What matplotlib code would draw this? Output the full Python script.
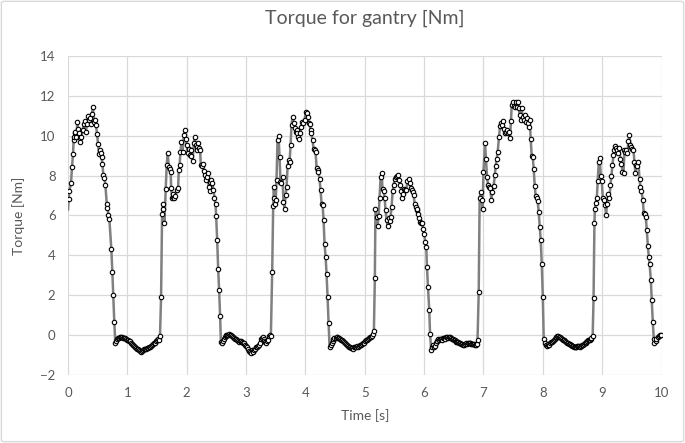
import matplotlib
matplotlib.use("Agg")
import matplotlib.pyplot as plt
from matplotlib.patches import FancyBboxPatch

# values
time_s = [
    0.000, 0.011, 0.020, 0.050, 0.067, 0.084, 0.095, 0.105, 0.115, 0.125,
    0.140, 0.157, 0.169, 0.185, 0.200, 0.210, 0.225, 0.247, 0.264, 0.280,
    0.300, 0.320, 0.337, 0.348, 0.365, 0.380, 0.400, 0.420, 0.438, 0.455,
    0.472, 0.489, 0.506, 0.523, 0.540, 0.556, 0.565, 0.579, 0.596, 0.613,
    0.630, 0.652, 0.665, 0.680, 0.697, 0.730, 0.747, 0.762, 0.780, 0.797,
    0.815, 0.832, 0.850, 0.867, 0.884, 0.900, 0.917, 0.934, 0.950, 0.967,
    0.984, 1.000, 1.017, 1.034, 1.050, 1.067, 1.084, 1.100, 1.117, 1.134,
    1.150, 1.167, 1.184, 1.200, 1.217, 1.234, 1.250, 1.267, 1.284, 1.300,
    1.317, 1.334, 1.350, 1.367, 1.384, 1.400, 1.417, 1.434, 1.450, 1.467,
    1.484, 1.500, 1.517, 1.534, 1.550, 1.568, 1.585, 1.595, 1.608, 1.625,
    1.646, 1.663, 1.680, 1.697, 1.714, 1.730, 1.738, 1.753, 1.765, 1.776,
    1.793, 1.810, 1.832, 1.855, 1.866, 1.880, 1.895, 1.910, 1.930, 1.950,
    1.967, 1.985, 2.000, 2.018, 2.035, 2.050, 2.070, 2.080, 2.100, 2.120,
    2.136, 2.153, 2.170, 2.180, 2.198, 2.210, 2.226, 2.237, 2.254, 2.270,
    2.288, 2.300, 2.320, 2.338, 2.355, 2.372, 2.385, 2.400, 2.417, 2.434,
    2.450, 2.468, 2.485, 2.496, 2.513, 2.530, 2.546, 2.563, 2.575, 2.590,
    2.605, 2.620, 2.637, 2.654, 2.670, 2.687, 2.704, 2.720, 2.737, 2.754,
    2.770, 2.787, 2.804, 2.820, 2.837, 2.854, 2.870, 2.887, 2.904, 2.920,
    2.937, 2.954, 2.970, 2.987, 3.004, 3.020, 3.037, 3.054, 3.070, 3.086,
    3.100, 3.112, 3.125, 3.140, 3.155, 3.170, 3.187, 3.204, 3.220, 3.237,
    3.255, 3.270, 3.283, 3.297, 3.310, 3.325, 3.340, 3.355, 3.367, 3.384,
    3.400, 3.418, 3.440, 3.457, 3.468, 3.478, 3.490, 3.500, 3.513, 3.530,
    3.547, 3.564, 3.580, 3.597, 3.614, 3.630, 3.648, 3.665, 3.682, 3.700,
    3.716, 3.733, 3.750, 3.766, 3.783, 3.800, 3.817, 3.833, 3.850, 3.865,
    3.880, 3.895, 3.910, 3.930, 3.950, 3.965, 3.985, 4.008, 4.025, 4.040,
    4.053, 4.070, 4.086, 4.100, 4.120, 4.137, 4.154, 4.170, 4.190, 4.205,
    4.220, 4.238, 4.255, 4.272, 4.290, 4.306, 4.323, 4.340, 4.356, 4.373,
    4.390, 4.407, 4.425, 4.440, 4.457, 4.473, 4.490, 4.507, 4.524, 4.540,
    4.557, 4.574, 4.590, 4.607, 4.624, 4.640, 4.657, 4.674, 4.690, 4.707,
    4.724, 4.740, 4.757, 4.774, 4.790, 4.807, 4.824, 4.840, 4.857, 4.874,
    4.890, 4.907, 4.924, 4.940, 4.957, 4.974, 4.990, 5.007, 5.024, 5.040,
    5.057, 5.074, 5.090, 5.107, 5.124, 5.140, 5.154, 5.170, 5.180, 5.200,
    5.216, 5.233, 5.250, 5.267, 5.284, 5.300, 5.317, 5.334, 5.350, 5.368,
    5.385, 5.400, 5.418, 5.435, 5.452, 5.470, 5.486, 5.503, 5.520, 5.540,
    5.565, 5.580, 5.600, 5.615, 5.632, 5.650, 5.666, 5.683, 5.700, 5.720,
    5.740, 5.756, 5.773, 5.790, 5.806, 5.823, 5.840, 5.857, 5.874, 5.887,
    5.900, 5.918, 5.935, 5.950, 5.970, 5.985, 6.000, 6.020, 6.036, 6.048,
    6.065, 6.087, 6.100, 6.120, 6.137, 6.150, 6.165, 6.180, 6.194, 6.210,
    6.225, 6.240, 6.255, 6.270, 6.284, 6.300, 6.315, 6.330, 6.345, 6.360,
    6.375, 6.390, 6.405, 6.420, 6.440, 6.455, 6.470, 6.485, 6.500, 6.515,
    6.530, 6.545, 6.560, 6.575, 6.590, 6.610, 6.625, 6.640, 6.655, 6.670,
    6.685, 6.700, 6.720, 6.735, 6.750, 6.765, 6.780, 6.795, 6.810, 6.825,
    6.840, 6.855, 6.870, 6.885, 6.900, 6.920, 6.936, 6.953, 6.970, 6.987,
    7.000, 7.026, 7.043, 7.060, 7.077, 7.094, 7.116, 7.133, 7.150, 7.172,
    7.190, 7.206, 7.223, 7.240, 7.262, 7.280, 7.296, 7.313, 7.330, 7.347,
    7.363, 7.380, 7.397, 7.414, 7.430, 7.447, 7.464, 7.476, 7.493, 7.510,
    7.526, 7.543, 7.560, 7.577, 7.594, 7.610, 7.627, 7.644, 7.660, 7.678,
    7.695, 7.712, 7.728, 7.745, 7.762, 7.780, 7.796, 7.813, 7.830, 7.847,
    7.864, 7.880, 7.897, 7.914, 7.930, 7.948, 7.965, 7.982, 8.000, 8.015,
    8.032, 8.050, 8.066, 8.080, 8.090, 8.105, 8.122, 8.137, 8.152, 8.167,
    8.182, 8.200, 8.215, 8.230, 8.245, 8.260, 8.275, 8.290, 8.305, 8.320,
    8.335, 8.350, 8.365, 8.380, 8.397, 8.410, 8.425, 8.440, 8.454, 8.470,
    8.482, 8.500, 8.510, 8.525, 8.538, 8.552, 8.566, 8.580, 8.594, 8.610,
    8.622, 8.636, 8.650, 8.665, 8.678, 8.692, 8.706, 8.720, 8.735, 8.750,
    8.763, 8.777, 8.790, 8.805, 8.820, 8.840, 8.855, 8.870, 8.878, 8.892,
    8.910, 8.926, 8.943, 8.960, 8.976, 8.994, 9.010, 9.027, 9.050, 9.066,
    9.083, 9.106, 9.123, 9.140, 9.156, 9.173, 9.190, 9.207, 9.224, 9.240,
    9.258, 9.275, 9.290, 9.308, 9.325, 9.342, 9.360, 9.376, 9.393, 9.410,
    9.426, 9.443, 9.460, 9.477, 9.494, 9.510, 9.527, 9.544, 9.560, 9.578,
    9.594, 9.610, 9.630, 9.645, 9.662, 9.685, 9.700, 9.718, 9.735, 9.752,
    9.770, 9.786, 9.800, 9.820, 9.836, 9.853, 9.870, 9.880, 9.900, 9.915,
    9.940, 9.960, 9.980, 9.995,
]

torque_nm = [
    6.30, 6.82, 7.22, 7.61, 8.43, 9.08, 9.78, 9.95, 10.12, 10.20,
    9.95, 10.67, 10.32, 10.12, 9.90, 9.70, 9.95, 10.28, 10.60, 10.74,
    10.20, 10.58, 10.99, 10.78, 10.87, 10.60, 11.07, 11.42, 10.67, 10.78,
    10.53, 10.07, 9.60, 9.08, 9.28, 9.11, 8.95, 8.58, 8.03, 7.90,
    7.53, 6.60, 6.40, 6.05, 5.80, 4.30, 3.16, 2.00, 0.64, -0.42,
    -0.28, -0.20, -0.15, -0.12, -0.10, -0.08, -0.10, -0.12, -0.12, -0.15,
    -0.20, -0.22, -0.24, -0.27, -0.30, -0.38, -0.45, -0.50, -0.55, -0.60,
    -0.65, -0.68, -0.72, -0.77, -0.80, -0.85, -0.80, -0.75, -0.72, -0.70,
    -0.68, -0.67, -0.67, -0.62, -0.58, -0.53, -0.50, -0.45, -0.42, -0.37,
    -0.30, -0.25, -0.18, -0.22, -0.03, 1.92, 6.07, 6.35, 6.60, 5.60,
    7.32, 8.53, 9.15, 8.44, 8.31, 8.19, 7.36, 6.86, 6.94, 7.10,
    6.90, 7.00, 7.27, 7.36, 8.28, 8.53, 9.20, 9.67, 9.18, 10.03,
    10.28, 9.82, 9.53, 9.11, 9.33, 9.03, 9.28, 8.98, 8.73, 9.65,
    9.95, 9.53, 9.45, 9.31, 9.62, 9.40, 9.31, 8.53, 8.48, 8.58,
    8.24, 8.03, 7.78, 7.91, 8.11, 7.44, 7.70, 7.24, 7.78, 7.61,
    7.27, 6.90, 6.57, 5.97, 4.77, 3.33, 2.24, 0.95, -0.33, -0.42,
    -0.30, -0.17, -0.10, -0.05, 0.00, 0.02, 0.03, 0.05, 0.03, 0.00,
    -0.05, -0.08, -0.15, -0.18, -0.20, -0.22, -0.28, -0.33, -0.30, -0.30,
    -0.36, -0.40, -0.42, -0.50, -0.55, -0.62, -0.70, -0.78, -0.85, -0.92,
    -0.75, -0.80, -0.84, -0.75, -0.70, -0.62, -0.58, -0.55, -0.48, -0.40,
    -0.17, -0.12, -0.08, -0.20, -0.28, -0.35, -0.42, -0.30, -0.22, -0.05,
    0.00, -0.02, 3.16, 6.47, 7.44, 6.90, 6.60, 6.77, 7.78, 9.78,
    10.00, 8.95, 7.66, 7.61, 7.94, 6.69, 6.35, 7.02, 7.44, 8.48,
    8.78, 8.70, 9.53, 10.54, 10.95, 10.62, 10.37, 10.20, 10.28, 10.12,
    9.95, 9.82, 10.12, 10.45, 10.70, 10.62, 10.78, 11.20, 11.15, 10.95,
    10.62, 10.60, 10.28, 10.12, 9.78, 9.36, 9.31, 9.20, 8.36, 8.28,
    8.19, 7.81, 7.27, 6.60, 6.52, 5.77, 4.55, 3.93, 3.09, 1.92,
    0.59, -0.62, -0.50, -0.38, -0.28, -0.20, -0.15, -0.13, -0.10, -0.10,
    -0.13, -0.16, -0.20, -0.22, -0.26, -0.30, -0.35, -0.40, -0.45, -0.50,
    -0.55, -0.60, -0.62, -0.65, -0.67, -0.70, -0.62, -0.60, -0.60, -0.55,
    -0.58, -0.55, -0.50, -0.48, -0.45, -0.42, -0.38, -0.30, -0.25, -0.22,
    -0.18, -0.15, -0.10, -0.07, -0.05, 0.05, 0.22, 2.88, 6.32, 5.94,
    5.47, 5.97, 6.90, 7.91, 8.14, 7.31, 7.24, 6.90, 6.27, 5.77,
    5.47, 5.85, 5.74, 5.94, 6.44, 7.24, 7.53, 7.81, 7.91, 7.98,
    8.01, 7.78, 7.53, 7.24, 6.86, 7.10, 7.31, 7.27, 7.27, 7.74,
    7.81, 7.61, 7.36, 7.27, 7.19, 7.02, 6.60, 6.44, 6.27, 6.35,
    6.10, 5.85, 5.69, 5.60, 5.60, 5.30, 5.07, 4.68, 4.43, 3.43,
    2.42, 1.25, 0.08, -0.75, -0.58, -0.50, -0.62, -0.55, -0.42, -0.30,
    -0.28, -0.17, -0.25, -0.20, -0.17, -0.22, -0.15, -0.12, -0.15, -0.17,
    -0.10, -0.08, -0.12, -0.10, -0.08, -0.12, -0.17, -0.20, -0.22, -0.26,
    -0.28, -0.32, -0.33, -0.36, -0.38, -0.42, -0.43, -0.45, -0.48, -0.50,
    -0.45, -0.42, -0.45, -0.40, -0.37, -0.40, -0.42, -0.44, -0.45, -0.46,
    -0.47, -0.48, -0.50, -0.45, -0.25, 2.17, 6.90, 7.19, 6.77, 6.35,
    8.19, 9.62, 8.81, 7.94, 7.53, 7.44, 7.36, 6.80, 7.19, 7.48,
    8.03, 8.48, 8.83, 9.20, 9.95, 10.48, 10.62, 10.53, 10.75, 10.32,
    10.12, 10.20, 10.28, 10.12, 10.20, 9.87, 10.75, 11.54, 11.70, 11.49,
    11.45, 11.70, 11.45, 11.67, 11.37, 11.04, 10.79, 11.37, 10.95, 10.79,
    11.04, 10.70, 10.87, 10.65, 10.45, 10.79, 9.82, 8.98, 8.95, 8.31,
    7.48, 6.97, 6.90, 6.72, 6.19, 5.43, 4.77, 3.56, 1.92, -0.17,
    -0.42, -0.50, -0.55, -0.50, -0.45, -0.50, -0.38, -0.35, -0.32, -0.27,
    -0.24, -0.17, -0.12, -0.08, -0.06, -0.05, -0.07, -0.10, -0.15, -0.18,
    -0.24, -0.25, -0.22, -0.28, -0.33, -0.38, -0.42, -0.44, -0.45, -0.48,
    -0.50, -0.53, -0.55, -0.58, -0.62, -0.60, -0.58, -0.56, -0.55, -0.57,
    -0.58, -0.56, -0.55, -0.52, -0.50, -0.46, -0.42, -0.37, -0.33, -0.28,
    -0.25, -0.23, -0.22, -0.17, -0.12, -0.05, 1.84, 5.64, 6.35, 6.64,
    6.90, 7.74, 8.70, 8.86, 7.98, 7.74, 6.90, 6.80, 6.52, 6.02,
    6.60, 7.07, 6.86, 7.53, 7.98, 8.53, 9.03, 9.31, 9.48, 9.41,
    9.31, 9.11, 9.41, 8.81, 8.58, 8.19, 8.11, 9.28, 9.20, 9.31,
    9.15, 9.75, 10.03, 9.53, 9.45, 9.36, 9.31, 8.70, 8.11, 8.53,
    8.48, 8.70, 7.81, 7.41, 7.24, 6.77, 6.14, 6.07, 5.94, 5.27,
    4.47, 3.90, 3.56, 2.76, 1.76, 0.67, -0.17, -0.42, -0.28, -0.17,
    -0.08, -0.05, 0.00, 0.00,
]

x_ticks = [0, 1, 2, 3, 4, 5, 6, 7, 8, 9, 10]
y_ticks = [-2, 0, 2, 4, 6, 8, 10, 12, 14]

plt.rcParams['font.family'] = ['Lato', 'DejaVu Sans']
text_col = '#595959'
grid_col = '#d9d9d9'

fig = plt.figure(figsize=(6.85, 4.43), dpi=100)
ax = fig.add_axes([0.0993, 0.1535, 0.8664, 0.7201])

# first sample sits on the axis edge, no marker drawn there
ax.plot(time_s, torque_nm, color='#808080', linewidth=1.8,
        marker='o', markersize=3.2, markerfacecolor='white',
        markeredgecolor='black', markeredgewidth=0.8,
        markevery=list(range(1, len(time_s))), zorder=3)

ax.set_xlim(0, 10)
ax.set_ylim(-2, 14)
ax.set_xticks(x_ticks)
ax.set_yticks(y_ticks)
ax.grid(True, color=grid_col, linewidth=0.9)
ax.set_axisbelow(True)
for s in ax.spines.values():
    s.set_visible(False)
ax.tick_params(length=0, colors=text_col, labelsize=9.5, pad=9)

ax.set_title('Torque for gantry [Nm]', color=text_col, fontsize=14, pad=23)
ax.set_xlabel('Time [s]', color=text_col, fontsize=10, labelpad=7)
ax.set_ylabel('Torque [Nm]', color=text_col, fontsize=10, labelpad=11)

# light chart border like the original
fig.patches.append(FancyBboxPatch((0.002, 0.003), 0.996, 0.994,
                                  boxstyle='round,pad=0,rounding_size=0.004',
                                  transform=fig.transFigure, fill=False,
                                  edgecolor=grid_col, linewidth=1.0))

fig.savefig('out.png', dpi=100)
